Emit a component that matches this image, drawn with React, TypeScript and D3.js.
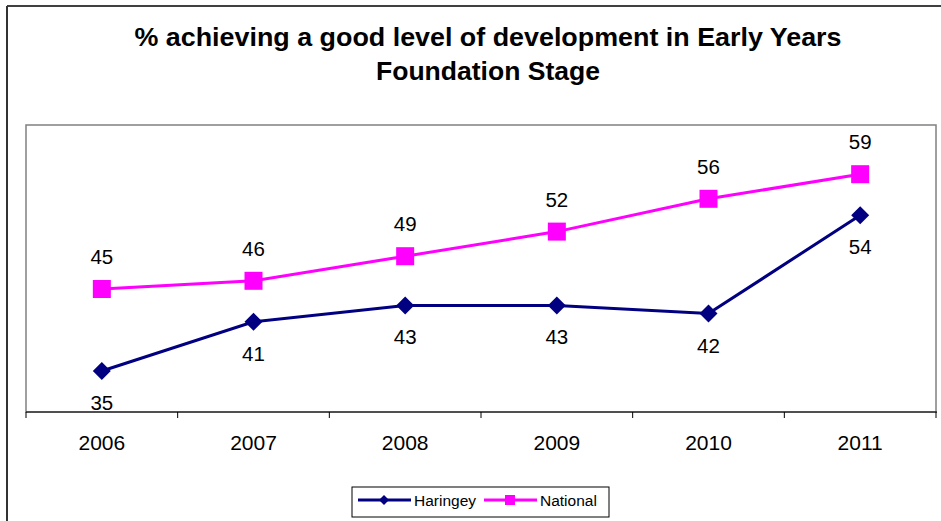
import React from "react";
import * as d3 from "d3";

const years = ["2006", "2007", "2008", "2009", "2010", "2011"];
const haringey = [35, 41, 43, 43, 42, 54];
const national = [45, 46, 49, 52, 56, 59];
const seriesNames = ["Haringey", "National"];
const titleLines = [
  "% achieving a good level of development in Early Years",
  "Foundation Stage",
];

const W = 941;
const H = 521;
const plot = { left: 26, right: 936, top: 125, bottom: 412 };
const NAVY = "#000080";
const PINK = "#FF00FF";
const FONT = "'Liberation Sans', Arial, sans-serif";
const titleWidths = [707, 224];

export default function App() {
  const x = d3
    .scaleBand<string>()
    .domain(years)
    .range([plot.left, plot.right])
    .paddingInner(0)
    .paddingOuter(0);
  const y = d3.scaleLinear().domain([30, 65]).range([plot.bottom, plot.top]);
  const cx = (d: string) => (x(d) as number) + x.bandwidth() / 2;

  const line = d3
    .line<number>()
    .x((_, i) => cx(years[i]))
    .y((v) => y(v));

  const diamond = (px: number, py: number, r: number) =>
    `M${px},${py - r}L${px + r},${py}L${px},${py + r}L${px - r},${py}Z`;

  const tickXs = d3.range(years.length + 1).map((i) => plot.left + i * x.bandwidth());

  return (
    <svg
      width={W}
      height={H}
      style={{ position: "absolute", left: 0, top: 0, background: "#fff" }}
      fontFamily={FONT}
    >
      <rect x={0} y={0} width={W} height={H} fill="#fff" />
      {/* outer border */}
      <line x1={7} y1={6} x2={W + 5} y2={6} stroke="#000" strokeWidth={1.5} />
      <line x1={7} y1={6} x2={7} y2={H + 5} stroke="#333" strokeWidth={2} />

      {/* title */}
      {titleLines.map((t, i) => (
        <text
          key={i}
          x={488}
          y={46 + i * 34}
          textAnchor="middle"
          fontSize={25}
          fontWeight="bold"
          fill="#000"
          textLength={titleWidths[i]}
          lengthAdjust="spacingAndGlyphs"
        >
          {t}
        </text>
      ))}

      {/* plot area border */}
      <rect
        x={plot.left}
        y={plot.top}
        width={plot.right - plot.left}
        height={plot.bottom - plot.top}
        fill="none"
        stroke="#808080"
        strokeWidth={1.5}
      />
      {/* x axis */}
      <line x1={plot.left} y1={plot.bottom} x2={plot.right + 1} y2={plot.bottom} stroke="#000" strokeWidth={1.2} />
      {tickXs.map((tx, i) => (
        <line key={i} x1={tx} y1={plot.bottom} x2={tx} y2={plot.bottom + 6} stroke="#000" strokeWidth={1} />
      ))}
      {years.map((yr) => (
        <text key={yr} x={cx(yr)} y={450} textAnchor="middle" fontSize={21} fill="#000">
          {yr}
        </text>
      ))}

      {/* lines */}
      <path d={line(haringey) as string} fill="none" stroke={NAVY} strokeWidth={3} />
      <path d={line(national) as string} fill="none" stroke={PINK} strokeWidth={3} />

      {/* markers */}
      {haringey.map((v, i) => (
        <path key={"h" + i} d={diamond(cx(years[i]), y(v), 9)} fill={NAVY} />
      ))}
      {national.map((v, i) => (
        <rect key={"n" + i} x={cx(years[i]) - 9} y={y(v) - 9} width={18} height={18} fill={PINK} />
      ))}

      {/* data labels */}
      {national.map((v, i) => (
        <text key={"nl" + i} x={cx(years[i])} y={y(v) - 25} textAnchor="middle" fontSize={20.5} fill="#000">
          {v}
        </text>
      ))}
      {haringey.map((v, i) => (
        <text key={"hl" + i} x={cx(years[i])} y={y(v) + 39} textAnchor="middle" fontSize={20.5} fill="#000">
          {v}
        </text>
      ))}

      {/* legend */}
      <rect x={352} y={487} width={257} height={30} fill="#fff" stroke="#000" strokeWidth={1} />
      <line x1={358} y1={500} x2={411} y2={500} stroke={NAVY} strokeWidth={3} />
      <path d={diamond(384, 500, 5)} fill={NAVY} />
      <text x={414} y={506} fontSize={15.5} fill="#000">{seriesNames[0]}</text>
      <line x1={484} y1={500} x2={537} y2={500} stroke={PINK} strokeWidth={3} />
      <rect x={505} y={495} width={10} height={10} fill={PINK} />
      <text x={540} y={506} fontSize={15.5} fill="#000">{seriesNames[1]}</text>
    </svg>
  );
}
